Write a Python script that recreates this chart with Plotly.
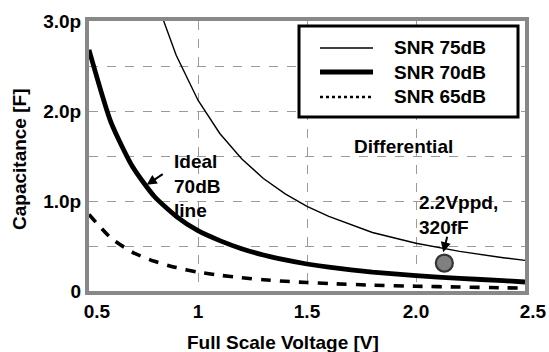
import plotly.graph_objects as go

# Full-scale voltage [V] and capacitance [pF]
v_main = [0.5, 0.6, 0.7, 0.8, 0.9, 1.0, 1.1, 1.2, 1.3, 1.4, 1.5, 1.6, 1.8, 2.0, 2.2, 2.4, 2.5]
c_70 = [2.68, 1.88, 1.38, 1.05, 0.83, 0.67, 0.56, 0.47, 0.40, 0.345, 0.30, 0.265, 0.21, 0.17, 0.14, 0.115, 0.10]
c_65 = [0.85, 0.59, 0.43, 0.33, 0.26, 0.21, 0.175, 0.147, 0.125, 0.108, 0.094, 0.083, 0.065, 0.053, 0.044, 0.036, 0.032]
v_75 = [0.82, 0.9, 1.0, 1.1, 1.2, 1.3, 1.4, 1.5, 1.6, 1.8, 2.0, 2.2, 2.4, 2.5]
c_75 = [3.15, 2.62, 2.12, 1.75, 1.47, 1.25, 1.08, 0.94, 0.83, 0.65, 0.53, 0.44, 0.37, 0.34]

design_v = [2.13]
design_c = [0.31]

series_names = ["SNR 75dB", "SNR 70dB", "SNR 65dB"]

NB = "\u00a0"
x_tickvals = [0.5, 1.0, 1.5, 2.0, 2.5]
x_ticktext = [NB * 3 + "0.5", "1", "1.5", "2.0", NB * 3 + "2.5"]
y_tickvals = [0, 0.5, 1.0, 1.5, 2.0, 2.5, 3.0]
y_ticktext = ["0", "", "1.0p", "", "2.0p", "", "3.0p"]

FONT = "Arial, Liberation Sans, sans-serif"
FS = 19

# plot area in pixels (for placing decorations in paper coordinates)
W, H = 549, 352
L, R, T, B = 89, 24, 21, 61
PW, PH = W - L - R, H - T - B


def px(xp):
    return (xp - L) / PW


def py(yp):
    return (H - B - yp) / PH


styles = [
    dict(color="black", width=1.4),
    dict(color="black", width=4.8, shape="spline", smoothing=0.6),
    dict(color="black", width=3.6, dash="10px,9px", shape="spline", smoothing=0.6),
]

fig = go.Figure()
fig.add_trace(go.Scatter(x=v_75, y=c_75, mode="lines", name=series_names[0], line=styles[0]))
fig.add_trace(go.Scatter(x=v_main, y=c_70, mode="lines", name=series_names[1], line=styles[1]))
fig.add_trace(go.Scatter(x=v_main, y=c_65, mode="lines", name=series_names[2], line=styles[2]))
fig.add_trace(go.Scatter(x=design_v, y=design_c, mode="markers",
                         marker=dict(size=17, color="#808080", line=dict(color="#333333", width=2.2))))

axis_common = dict(
    showline=True, linecolor="#888888", linewidth=4, mirror=True,
    showgrid=True, gridcolor="#9a9a9a", griddash="dash", gridwidth=1,
    zeroline=False, ticks="", automargin=False,
    tickfont=dict(family=FONT, size=FS, color="black", weight="bold"),
)

fig.update_layout(
    width=W, height=H,
    margin=dict(l=L, r=R, t=T, b=B, autoexpand=False),
    plot_bgcolor="white", paper_bgcolor="white",
    font=dict(family=FONT, color="black"),
    showlegend=False,
    xaxis=dict(range=[0.5, 2.5], tickvals=x_tickvals, ticktext=x_ticktext, **axis_common),
    yaxis=dict(range=[0, 3.0], tickvals=y_tickvals, ticktext=y_ticktext, **axis_common),
)


def label(xp, yp, text, xanchor="center", angle=0):
    fig.add_annotation(x=px(xp), y=py(yp), xref="paper", yref="paper", showarrow=False,
                       xanchor=xanchor, yanchor="middle", align="left", textangle=angle,
                       text=text, font=dict(size=FS, family=FONT, color="black"))


# axis titles
label(283, 342, "<b>Full Scale Voltage [V]</b>")
label(19, 160, "<b>Capacitance [F]</b>", angle=-90)

# legend box (drawn)
fig.add_shape(type="rect", xref="paper", yref="paper",
              x0=px(299), x1=px(518), y0=py(117), y1=py(26),
              line=dict(color="black", width=3), fillcolor="white", layer="above")
leg_y = [48, 72, 97]
leg_dash = ["solid", "solid", "dot"]
leg_w = [1.6, 5, 2.6]
for name, yy, d, lw in zip(series_names, leg_y, leg_dash, leg_w):
    fig.add_shape(type="line", xref="paper", yref="paper", x0=px(320), x1=px(373),
                  y0=py(yy), y1=py(yy), line=dict(color="black", width=lw, dash=d), layer="above")
    label(392, yy, f"<b>{name}</b>", xanchor="left")

label(403, 146, "<b>Differential</b>")
label(172, 186, "<b>Ideal<br>70dB<br>line</b>", xanchor="left")
fig.add_annotation(x=0.765, y=1.18, xref="x", yref="y", ax=0.845, ay=1.31, axref="x", ayref="y",
                   text="", showarrow=True, arrowhead=2, arrowsize=1, arrowwidth=2, arrowcolor="black")
label(417, 215, "<b>2.2Vppd,<br>320fF</b>", xanchor="left")
fig.add_annotation(x=2.125, y=0.43, xref="x", yref="y", ax=2.145, ay=0.62, axref="x", ayref="y",
                   text="", showarrow=True, arrowhead=2, arrowsize=1, arrowwidth=2, arrowcolor="black")

fig.write_html("out.html")
